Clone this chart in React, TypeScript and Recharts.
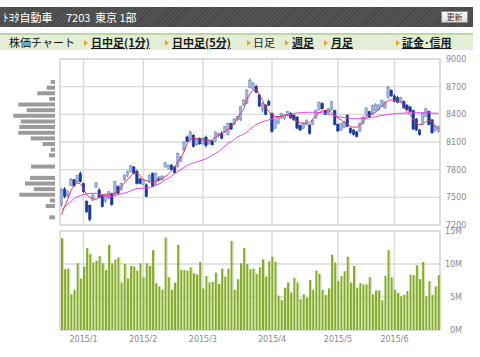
import React from 'react';
import {
  ComposedChart, BarChart, Bar, Line, XAxis, YAxis, CartesianGrid, ReferenceArea,
} from 'recharts';

// ---- categories (trading days, Dec 2014 - Jun 2015) ----
const dates: string[] = [
  '12/19','12/22','12/24','12/25','12/26','12/29','12/30',
  '1/5','1/6','1/7','1/8','1/9','1/13','1/14','1/15','1/16','1/19','1/20','1/21','1/22','1/23','1/26','1/27','1/28','1/29','1/30',
  '2/2','2/3','2/4','2/5','2/6','2/9','2/10','2/12','2/13','2/16','2/17','2/18','2/19','2/20','2/23','2/24','2/25','2/26','2/27',
  '3/2','3/3','3/4','3/5','3/6','3/9','3/10','3/11','3/12','3/13','3/16','3/17','3/18','3/19','3/20','3/23','3/24','3/25','3/26','3/27','3/30','3/31',
  '4/1','4/2','4/3','4/6','4/7','4/8','4/9','4/10','4/13','4/14','4/15','4/16','4/17','4/20','4/21','4/22','4/23','4/24','4/27','4/28','4/30',
  '5/1','5/7','5/8','5/11','5/12','5/13','5/14','5/15','5/18','5/19','5/20','5/21','5/22','5/25','5/26','5/27','5/28','5/29',
  '6/1','6/2','6/3','6/4','6/5','6/8','6/9','6/10','6/11','6/12','6/15','6/16','6/17','6/18','6/19',
];

// ---- OHLC ----
const opens: number[] = [
  7420,7590,7520,7630,7690,7660,7760,
  7650,7455,7415,7470,7610,7580,7525,7460,7490,7540,7530,7615,7580,7690,7735,7780,7830,7780,7700,
  7640,7635,7670,7760,7640,7700,7690,7835,7815,7850,7830,7835,7890,8015,8155,8125,8175,8070,8140,
  8080,8150,8080,8110,8110,8170,8190,8210,8180,8300,8290,8340,8340,8500,8520,8690,8680,8700,8610,8440,8500,8540,
  8410,8250,8300,8360,8360,8395,8410,8390,8370,8280,8250,8290,8285,8290,8360,8450,8520,8440,8410,8450,8440,
  8290,8230,8260,8390,8250,8230,8210,8220,8300,8390,8430,8400,8440,8450,8490,8470,8580,8660,
  8600,8580,8540,8540,8500,8480,8440,8350,8230,8300,8380,8430,8340,8230,8215,
];
const highs: number[] = [
  7600,7610,7575,7710,7700,7745,7780,
  7660,7470,7420,7540,7670,7600,7530,7530,7570,7550,7680,7630,7660,7750,7790,7850,7840,7800,7710,
  7700,7650,7750,7770,7770,7730,7740,7880,7855,7860,7840,7985,7950,8110,8170,8220,8185,8145,8150,
  8150,8170,8130,8120,8215,8200,8220,8275,8310,8310,8360,8380,8490,8565,8670,8790,8750,8720,8620,8525,8510,8560,
  8420,8345,8380,8415,8390,8435,8425,8400,8380,8290,8310,8345,8290,8345,8450,8540,8530,8450,8470,8545,8450,
  8300,8310,8330,8400,8260,8240,8215,8310,8380,8480,8440,8505,8520,8510,8560,8545,8710,8670,
  8620,8600,8590,8550,8510,8490,8450,8360,8240,8420,8470,8440,8350,8280,8280,
];
const lows: number[] = [
  7400,7490,7500,7620,7610,7650,7660,
  7550,7330,7240,7460,7600,7490,7390,7440,7480,7410,7520,7530,7570,7680,7720,7770,7750,7640,7640,
  7630,7500,7660,7610,7630,7670,7680,7820,7800,7790,7760,7820,7880,8000,8100,8110,8040,8060,8070,
  8070,8040,8070,8060,8100,8150,8130,8200,8170,8230,8280,8330,8330,8490,8510,8680,8660,8630,8480,8420,8390,8490,
  8200,8240,8290,8350,8340,8380,8350,8330,8240,8220,8240,8280,8180,8280,8350,8440,8450,8390,8400,8440,8280,
  8210,8220,8250,8260,8190,8170,8150,8210,8290,8380,8360,8390,8430,8440,8480,8460,8570,8590,
  8530,8520,8530,8460,8440,8420,8230,8220,8170,8290,8370,8280,8190,8210,8200,
];
const closes: number[] = [
  7580,7510,7560,7695,7625,7735,7670,
  7560,7345,7260,7525,7650,7500,7400,7520,7560,7420,7670,7545,7650,7740,7780,7840,7760,7650,7650,
  7690,7510,7740,7620,7760,7690,7730,7875,7850,7800,7770,7975,7940,8100,8105,8210,8050,8140,8080,
  8140,8060,8120,8070,8210,8190,8140,8265,8300,8240,8350,8375,8485,8555,8665,8770,8740,8640,8490,8520,8400,8500,
  8215,8340,8375,8410,8385,8430,8360,8340,8250,8230,8300,8335,8195,8335,8445,8530,8460,8400,8465,8535,8290,
  8220,8300,8320,8270,8200,8180,8160,8300,8370,8470,8370,8495,8510,8500,8550,8530,8690,8600,
  8540,8530,8580,8470,8450,8430,8240,8230,8180,8410,8460,8290,8200,8270,8265,
];

// ---- moving averages (short / long) ----
const maShort: number[] = [
  7310,7400,7480,7570,7630,7655,7645,
  7590,7530,7500,7485,7480,7500,7530,7535,7525,7535,7545,7570,7615,7655,7695,7730,7760,7762,7735,
  7695,7680,7670,7662,7675,7688,7705,7725,7750,7790,7830,7880,7930,7995,8080,8120,8140,8135,8130,
  8122,8110,8110,8128,8150,8175,8190,8210,8240,8275,8300,8360,8410,8460,8560,8620,8660,8665,8615,8550,8475,8430,
  8400,8378,8375,8380,8393,8385,8375,8345,8325,8310,8303,8305,8310,8350,8390,8418,8435,8440,8440,8420,8390,
  8360,8340,8310,8290,8270,8262,8260,8280,8325,8370,8395,8410,8420,8455,8490,8515,8550,8556,
  8552,8540,8528,8480,8430,8395,8345,8300,8288,8292,8320,8330,8318,8275,8240,
];
const maLong: number[] = [
  7365,7395,7425,7455,7485,7505,7520,
  7530,7538,7542,7544,7543,7535,7522,7512,7508,7510,7518,7528,7538,7545,7555,7570,7585,7595,7598,
  7598,7600,7605,7615,7630,7645,7665,7690,7705,7730,7755,7780,7800,7825,7848,7860,7872,7885,7895,
  7905,7918,7935,7955,7975,7996,8025,8055,8085,8105,8125,8155,8170,8185,8205,8240,8265,8290,8305,8320,8330,8340,
  8350,8360,8372,8380,8388,8395,8405,8410,8415,8418,8420,8422,8422,8422,8422,8420,8418,8412,8405,8395,8385,
  8375,8370,8365,8360,8355,8352,8352,8353,8355,8357,8362,8368,8375,8382,8388,8393,8398,8403,
  8407,8410,8412,8413,8414,8415,8416,8418,8418,8418,8417,8415,8413,8412,8411,
];

// ---- volume (millions of shares) ----
const volumes: number[] = [
  13.9,9.2,9.3,5.4,6.1,10.1,7.8,
  9.6,12.4,11.5,10.2,10.5,11.2,10.1,9.1,12.9,10.1,10.7,11.0,7.2,10.0,7.8,9.7,9.6,9.0,10.1,
  8.0,10.1,9.7,12.1,7.1,6.6,6.1,14.0,8.0,6.1,7.2,12.9,9.1,9.1,9.0,9.5,8.6,8.4,10.3,
  6.3,8.2,7.2,7.3,8.7,7.0,9.3,8.1,9.3,13.5,6.1,7.7,10.1,12.4,10.0,9.2,9.3,8.5,9.5,10.7,8.1,10.4,
  11.1,10.3,5.2,4.5,6.4,7.2,5.7,7.9,7.2,4.7,5.4,4.9,7.6,6.1,9.0,8.5,6.1,5.3,6.3,11.4,10.2,
  7.4,8.2,8.9,11.1,7.2,9.7,6.4,7.1,6.9,6.9,8.0,5.4,6.0,6.0,4.5,8.2,12.1,8.0,
  6.1,5.6,5.1,5.3,5.9,8.4,8.3,9.8,7.7,10.3,5.1,7.4,5.3,6.6,8.3,
];

// ---- price-by-volume profile (price bins from top to bottom) ----
const profilePrices: string[] = [
  '8755','8690','8625','8565','8500','8445','8385','8320','8260','8200','8140','8080','8015',
  '7960','7895','7835','7770','7710','7655','7595','7535','7470','7410','7350','7290',
];
const profileVolumes: number[] = [
  4.3,8.3,17.7,5.7,36.7,28.3,41.7,34.3,35.7,36.7,24.3,12.3,4.3,6,0,24,0,25,30,21.3,35.7,5,9.3,0,5.7,
];

// ---- axes ----
const priceTicks: number[] = [7200, 7500, 7800, 8100, 8400, 8700, 9000];
const volumeTicks: number[] = [0, 5, 10, 15];
const monthTicks: string[] = ['1/5', '2/2', '3/2', '4/1', '5/1', '6/1'];
const monthLabels: string[] = ['2015/1', '2015/2', '2015/3', '2015/4', '2015/5', '2015/6'];

const rows = dates.map((d, i) => ({
  date: d,
  open: opens[i],
  high: highs[i],
  low: lows[i],
  close: closes[i],
  range: [lows[i], highs[i]],
  maShort: maShort[i],
  maLong: maLong[i],
  volume: volumes[i],
}));

const profileRows = profilePrices.map((p, i) => ({ price: p, vol: profileVolumes[i] }));

const tickStyle = { fill: '#8a8a8a', fontSize: 8, fontFamily: 'DejaVu Sans' };
const GRID = '#dadada';

const Candle = (props: any) => {
  const { x, y, width, height, payload } = props;
  if (!payload || height == null) return null;
  const { open, close, high, low } = payload;
  const up = close >= open;
  const span = high - low || 1;
  const k = height / span;
  const top = y + (high - Math.max(open, close)) * k;
  const bot = y + (high - Math.min(open, close)) * k;
  const cx = x + width / 2;
  const wick = up ? '#5a76b6' : '#12348f';
  return (
    <g>
      <line x1={cx} x2={cx} y1={y} y2={y + height} stroke={wick} strokeWidth={1} />
      <rect
        x={x + 0.25}
        y={top}
        width={width - 0.5}
        height={Math.max(1, bot - top)}
        fill={up ? '#a2b5dc' : '#17399a'}
        stroke={up ? '#6d88c2' : '#17399a'}
        strokeWidth={0.5}
      />
    </g>
  );
};

const VolBar = (props: any) => {
  const { x, y, width, height } = props;
  if (height == null || height <= 0) return null;
  return (
    <g>
      <rect x={x} y={y} width={width} height={height} fill="#84ab2b" />
      <rect x={x + width} y={y} width={1} height={height} fill="#cfe2a4" />
    </g>
  );
};

const tabs = [
  { label: '日中足(1分)', link: true, arrow: 84, x: 91 },
  { label: '日中足(5分)', link: true, arrow: 165, x: 172 },
  { label: '日足', link: false, arrow: 247, x: 253 },
  { label: '週足', link: true, arrow: 285, x: 292 },
  { label: '月足', link: true, arrow: 324, x: 331 },
  { label: '証金･信用', link: true, arrow: 396, x: 402 },
];

export default function App() {
  const jp = '"Noto Sans CJK JP", "DejaVu Sans", sans-serif';
  return (
    <div style={{ position: 'absolute', left: 0, top: 0, width: 480, height: 357, background: '#fff', overflow: 'hidden', fontFamily: jp }}>
      {/* header */}
      <div
        style={{
          position: 'absolute', left: 0, top: 7, width: 473, height: 20,
          background: 'repeating-linear-gradient(135deg, #464646 0px, #464646 1px, #545454 1px, #545454 3px)',
          color: '#fff', fontSize: 11, lineHeight: '20px',
        }}
      >
        <span style={{ position: 'absolute', left: 3, top: 0 }}>ﾄﾖﾀ自動車</span>
        <span style={{ position: 'absolute', left: 66, top: 0 }}>7203</span>
        <span style={{ position: 'absolute', left: 95, top: 0 }}>東京 1部</span>
        <div
          style={{
            position: 'absolute', left: 441, top: 4, width: 25, height: 10,
            background: 'linear-gradient(#ffffff, #dedede)', border: '1px solid #8a8a8a',
            color: '#333', fontSize: 8, lineHeight: '10px', textAlign: 'center',
          }}
        >
          更新
        </div>
      </div>
      {/* tab bar */}
      <div
        style={{
          position: 'absolute', left: 0, top: 33, width: 473, height: 15,
          borderTop: '2px solid #bcd7a2', background: '#e4eed6',
          fontSize: 11, lineHeight: '15px', color: '#111',
        }}
      >
        <span style={{ position: 'absolute', left: 9, top: 0 }}>株価チャート</span>
        {tabs.map((t) => (
          <React.Fragment key={t.label}>
            <span
              style={{
                position: 'absolute', left: t.arrow, top: 5, width: 0, height: 0,
                borderLeft: '4px solid #f0a02a', borderTop: '3px solid transparent', borderBottom: '3px solid transparent',
              }}
            />
            <span
              style={{
                position: 'absolute', left: t.x, top: 0,
                fontWeight: t.link ? 'bold' : 'normal',
                textDecoration: t.link ? 'underline' : 'none',
                color: t.link ? '#1a1a1a' : '#222',
              }}
            >
              {t.label}
            </span>
          </React.Fragment>
        ))}
      </div>

      {/* price-by-volume profile: bins laid over the 8755..7290 price band */}
      <div style={{ position: 'absolute', left: 0, top: 0 }}>
        <BarChart
          width={60}
          height={232}
          data={profileRows}
          layout="vertical"
          barCategoryGap={0}
          margin={{ top: 79, right: 5, bottom: 12, left: 10 }}
        >
          <XAxis type="number" dataKey="vol" domain={[0, 45]} reversed hide />
          <YAxis type="category" dataKey="price" hide />
          <Bar dataKey="vol" fill="#9b9b9b" barSize={4} isAnimationActive={false} />
        </BarChart>
      </div>

      {/* candlestick chart */}
      <div style={{ position: 'absolute', left: 0, top: 0 }}>
        <ComposedChart width={480} height={232} data={rows} margin={{ top: 59, right: 0, bottom: 7, left: 60 }}>
          <CartesianGrid stroke={GRID} strokeWidth={1.4} />
          <XAxis dataKey="date" ticks={monthTicks} interval={0} hide />
          <YAxis
            orientation="right"
            width={40}
            domain={[7200, 9000]}
            ticks={priceTicks}
            allowDataOverflow
            axisLine={false}
            tickLine={false}
            tickSize={4}
            tickMargin={2}
            tick={tickStyle}
          />
          <ReferenceArea y1={7200} y2={9000} fill="none" stroke={GRID} strokeWidth={1.4} />
          <Bar dataKey="range" barSize={3} shape={<Candle />} isAnimationActive={false} />
          <Line dataKey="maLong" type="monotone" stroke="#df45ee" strokeWidth={1} dot={false} isAnimationActive={false} />
          <Line dataKey="maShort" type="monotone" stroke="#e8325c" strokeWidth={1} dot={false} isAnimationActive={false} />
        </ComposedChart>
      </div>

      {/* volume chart */}
      <div style={{ position: 'absolute', left: 0, top: 0 }}>
        <ComposedChart width={480} height={357} data={rows} margin={{ top: 231, right: 0, bottom: 7, left: 60 }}>
          <CartesianGrid stroke={GRID} strokeWidth={1.4} />
          <XAxis
            dataKey="date"
            ticks={monthTicks}
            interval={0}
            height={20}
            axisLine={false}
            tickLine={false}
            tickSize={4}
            tickMargin={2}
            tick={tickStyle}
            tickFormatter={(v: string) => monthLabels[monthTicks.indexOf(v)]}
          />
          <YAxis
            orientation="right"
            width={40}
            domain={[0, 15]}
            ticks={volumeTicks}
            axisLine={false}
            tickLine={false}
            tickSize={0}
            tickMargin={22}
            tick={{ ...tickStyle, textAnchor: 'end' }}
            tickFormatter={(v: number) => `${v}M`}
          />
          <ReferenceArea y1={0} y2={15} fill="none" stroke={GRID} strokeWidth={1.4} />
          <Bar dataKey="volume" barSize={2} shape={<VolBar />} isAnimationActive={false} />
        </ComposedChart>
      </div>
    </div>
  );
}
